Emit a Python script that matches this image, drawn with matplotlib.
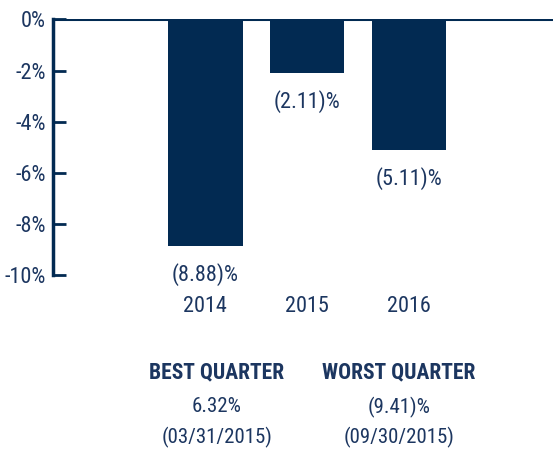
import matplotlib
matplotlib.use('Agg')
import matplotlib.pyplot as plt
from matplotlib import font_manager

# pick a condensed face if there is one
installed = {f.name for f in font_manager.fontManager.ttflist}
candidates = ['Roboto Condensed', 'Archivo Narrow', 'Asap Condensed', 'Liberation Sans Narrow']
family = next((c for c in candidates if c in installed), 'DejaVu Sans')
plt.rcParams['font.family'] = [family, 'DejaVu Sans']

navy = '#022A52'
text_c = '#1C3660'

# data
years = ['2014', '2015', '2016']
returns = [-8.88, -2.11, -5.11]
value_labels = ['(8.88)%', '(2.11)%', '(5.11)%']
yticks = [0, -2, -4, -6, -8, -10]
ytick_labels = ['0%', '-2%', '-4%', '-6%', '-8%', '-10%']
quarter_titles = ['BEST QUARTER', 'WORST QUARTER']
quarter_values = ['6.32%', '(9.41)%']
quarter_dates = ['(03/31/2015)', '(09/30/2015)']

fs = 16 if family != 'DejaVu Sans' else 13

fig = plt.figure(figsize=(5.53, 4.49), dpi=100)
ax = fig.add_axes([0.0958, 0.3875, 0.9042, 0.5691])

x = list(range(len(years)))
ax.bar(x, returns, width=0.73, color=navy, zorder=2)
ax.axhline(0, color=navy, lw=2.2, zorder=3)

for xi, v, lab in zip(x, returns, value_labels):
    ax.annotate(lab, (xi, v), xytext=(0, -12), textcoords='offset points',
                ha='center', va='top', fontsize=fs, color=text_c)

ax.set_xlim(-1.5, 3.42)
ax.set_ylim(-10, 0)
ax.set_yticks(yticks)
ax.set_yticklabels(ytick_labels, fontsize=fs, color=text_c)
ax.set_xticks(x)
ax.set_xticklabels(years, fontsize=fs, color=text_c)
ax.tick_params(axis='y', direction='in', length=9, width=2, color=navy, pad=5)
ax.tick_params(axis='x', length=0, pad=15)

for s in ['top', 'right', 'bottom']:
    ax.spines[s].set_visible(False)
ax.spines['left'].set_color(navy)
ax.spines['left'].set_linewidth(2.5)

# best / worst quarter notes
for cx, t, v, d in zip([217 / 553, 399 / 553], quarter_titles, quarter_values, quarter_dates):
    fig.text(cx, 1 - 372 / 449, t, ha='center', va='center', fontsize=fs - 0.5,
             fontweight='bold', color=text_c)
    fig.text(cx, 1 - 407 / 449, v, ha='center', va='center', fontsize=fs - 1, color=text_c)
    fig.text(cx, 1 - 437 / 449, d, ha='center', va='center', fontsize=fs - 1, color=text_c)

fig.savefig('out.png', dpi=100)
plt.close()
